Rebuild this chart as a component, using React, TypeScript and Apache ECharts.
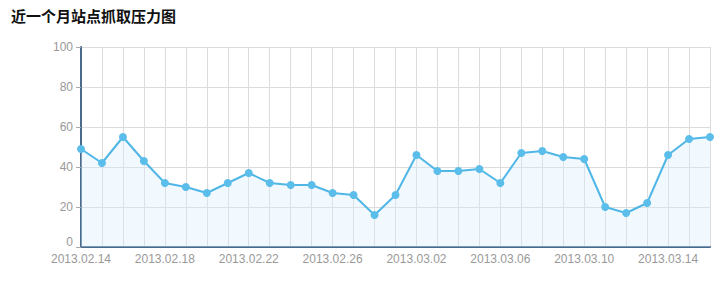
import React, { useEffect, useRef } from "react";
import * as echarts from "echarts";

const dates = [
  "2013.02.14", "2013.02.15", "2013.02.16", "2013.02.17", "2013.02.18", "2013.02.19", "2013.02.20",
  "2013.02.21", "2013.02.22", "2013.02.23", "2013.02.24", "2013.02.25", "2013.02.26", "2013.02.27",
  "2013.02.28", "2013.03.01", "2013.03.02", "2013.03.03", "2013.03.04", "2013.03.05", "2013.03.06",
  "2013.03.07", "2013.03.08", "2013.03.09", "2013.03.10", "2013.03.11", "2013.03.12", "2013.03.13",
  "2013.03.14", "2013.03.15", "2013.03.16",
];
const pressure = [
  49, 42, 55, 43, 32, 30, 27, 32, 37, 32, 31, 31, 27, 26, 16,
  26, 46, 38, 38, 39, 32, 47, 48, 45, 44, 20, 17, 22, 46, 54, 55,
];
const titleText = "近一个月站点抓取压力图";

export default function App() {
  const ref = useRef<HTMLDivElement>(null);
  useEffect(() => {
    if (!ref.current) return;
    const chart = echarts.init(ref.current, null, { renderer: "svg" });
    chart.setOption({
      animation: false,
      backgroundColor: "#ffffff",
      title: {
        text: titleText,
        left: 6,
        top: 3,
        textStyle: {
          fontFamily: "Noto Sans CJK SC",
          fontSize: 15,
          fontWeight: "bold",
          color: "#111",
        },
      },
      grid: { left: 81, right: 15, top: 47, bottom: 39 },
      xAxis: {
        type: "category",
        data: dates,
        boundaryGap: false,
        axisLine: { lineStyle: { color: "#4a6b8c", width: 2 } },
        axisTick: { show: false },
        axisLabel: {
          interval: 3,
          color: "#999",
          fontSize: 12,
          fontFamily: "Liberation Sans",
          margin: 6,
        },
        splitLine: { show: true, interval: 0, lineStyle: { color: "#dcdcdc", width: 1 } },
      },
      yAxis: {
        type: "value",
        min: 0,
        max: 100,
        interval: 20,
        axisLine: { show: true, lineStyle: { color: "#4a6b8c", width: 2 } },
        axisTick: { show: true, length: 5, lineStyle: { color: "#aaa", width: 1 } },
        axisLabel: {
          color: "#999",
          fontSize: 12,
          fontFamily: "Liberation Sans",
          margin: 8,
          formatter: (v: number) => (v === 0 ? "{z|0}" : String(v)),
          rich: { z: { padding: [0, 0, 10, 0], color: "#999", fontSize: 12, fontFamily: "Liberation Sans" } },
        },
        splitLine: { show: true, lineStyle: { color: "#dcdcdc", width: 1 } },
      },
      series: [
        {
          type: "line",
          data: pressure,
          symbol: "circle",
          symbolSize: 8,
          lineStyle: { color: "#4fb6e6", width: 2 },
          itemStyle: { color: "#5bbde9" },
          areaStyle: { color: "rgba(214,238,251,0.5)" },
        },
      ],
    });
    return () => chart.dispose();
  }, []);
  return <div ref={ref} style={{ position: "fixed", left: 0, top: 0, width: 725, height: 286 }} />;
}
